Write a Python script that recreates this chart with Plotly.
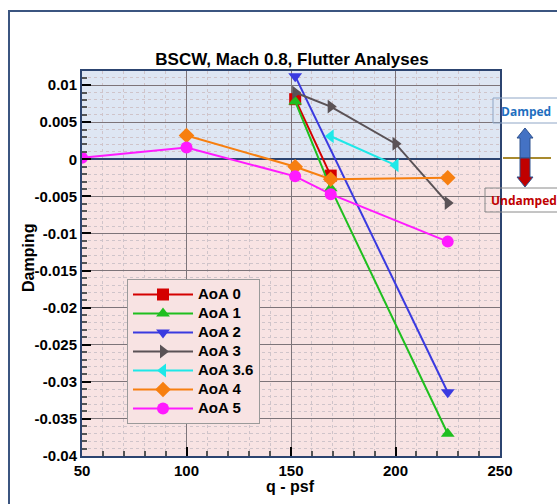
import plotly.graph_objects as go

# ---- data ----
series_names = ["AoA 0", "AoA 1", "AoA 2", "AoA 3", "AoA 3.6", "AoA 4", "AoA 5"]
q_aoa0 = [152, 169]
d_aoa0 = [0.0081, -0.0022]
q_aoa1 = [152, 169, 225]
d_aoa1 = [0.0078, -0.0039, -0.0370]
q_aoa2 = [152, 225]
d_aoa2 = [0.0112, -0.0314]
q_aoa3 = [152, 169, 200, 225]
d_aoa3 = [0.0090, 0.0071, 0.0021, -0.0059]
q_aoa36 = [169, 200]
d_aoa36 = [0.0031, -0.0008]
q_aoa4 = [100, 152, 169, 225]
d_aoa4 = [0.0032, -0.0010, -0.0027, -0.0025]
q_aoa5 = [50, 100, 152, 169, 225]
d_aoa5 = [0.0002, 0.0016, -0.0023, -0.0047, -0.0111]

y_tickvals = [0.01, 0.005, 0, -0.005, -0.01, -0.015, -0.02, -0.025, -0.03, -0.035, -0.04]
y_ticktext = ["0.01", "0.005", "0", "-0.005", "-0.01", "-0.015", "-0.02", "-0.025", "-0.03", "-0.035", "-0.04"]
x_tickvals = [50, 100, 150, 200, 250]
x_ticktext = ["50", "100", "150", "200", "250"]

xs = [q_aoa0, q_aoa1, q_aoa2, q_aoa3, q_aoa36, q_aoa4, q_aoa5]
ys = [d_aoa0, d_aoa1, d_aoa2, d_aoa3, d_aoa36, d_aoa4, d_aoa5]
colors = ["#d40000", "#1fbf1f", "#3a3ae0", "#5a5256", "#1ee8e8", "#f77f10", "#ff1aff"]
symbols = ["square", "triangle-up", "triangle-down", "triangle-right", "triangle-left", "diamond", "circle"]

W, H = 557, 504
ML, MR, MT, MB = 82, 57, 71, 48
PW, PH = W - ML - MR, H - MT - MB


def px(xp):
    return (xp - ML) / PW


def py(yp):
    return (H - MB - yp) / PH


fig = go.Figure()
for n, x, y, c, s in zip(series_names, xs, ys, colors, symbols):
    fig.add_trace(go.Scatter(x=x, y=y, name=f"<span style='font-size:15px'>{n}</span>",
                             mode="lines+markers",
                             line=dict(color=c, width=2),
                             marker=dict(color=c, symbol=s, size=12)))

shapes = []
# background regions
shapes.append(dict(type="rect", xref="x", yref="y", x0=50, x1=250, y0=0, y1=0.0119,
                   fillcolor="rgb(222,230,243)", line=dict(width=0), layer="below"))
shapes.append(dict(type="rect", xref="x", yref="y", x0=50, x1=250, y0=-0.04, y1=0,
                   fillcolor="rgb(248,227,227)", line=dict(width=0), layer="below"))
# outer frame
shapes.append(dict(type="path", xref="paper", yref="paper",
                   path=f"M {px(9)},{py(520)} L {px(9)},{py(11)} L {px(580)},{py(11)}",
                   line=dict(color="#3b5580", width=2)))
# Damped / Undamped boxes
shapes.append(dict(type="rect", xref="paper", yref="paper",
                   x0=px(493), x1=px(600), y0=py(123), y1=py(98),
                   line=dict(color="#8fa6c6", width=1)))
shapes.append(dict(type="rect", xref="paper", yref="paper",
                   x0=px(485), x1=px(600), y0=py(212), y1=py(188),
                   line=dict(color="#8a8a8a", width=1)))
# horizontal line of the indicator
shapes.append(dict(type="line", xref="paper", yref="paper",
                   x0=px(503), x1=px(551), y0=py(158), y1=py(158),
                   line=dict(color="#a88a2e", width=2)))
# double arrow: upper half blue, lower half red
cx = 525
sw, hw, hh = 5, 8, 10
up = (f"M {px(cx-sw)},{py(158)} L {px(cx-sw)},{py(128+hh)} L {px(cx-hw)},{py(128+hh)} "
      f"L {px(cx)},{py(128)} L {px(cx+hw)},{py(128+hh)} L {px(cx+sw)},{py(128+hh)} "
      f"L {px(cx+sw)},{py(158)} Z")
dn = (f"M {px(cx-sw)},{py(158)} L {px(cx-sw)},{py(187-hh)} L {px(cx-hw)},{py(187-hh)} "
      f"L {px(cx)},{py(187)} L {px(cx+hw)},{py(187-hh)} L {px(cx+sw)},{py(187-hh)} "
      f"L {px(cx+sw)},{py(158)} Z")
shapes.append(dict(type="path", xref="paper", yref="paper", path=up,
                   fillcolor="#4472c4", line=dict(color="#2f528f", width=1)))
shapes.append(dict(type="path", xref="paper", yref="paper", path=dn,
                   fillcolor="#c00000", line=dict(color="#2f528f", width=1)))

bold = dict(family="Liberation Sans, Arial, sans-serif", color="black", weight="bold")

annotations = [
    dict(text="Damping", xref="paper", yref="paper", x=px(28), y=py(258), showarrow=False,
         textangle=-90, font=dict(size=16, **bold), xanchor="center", yanchor="middle"),
    dict(text="q - psf", xref="paper", yref="paper", x=px(290), y=py(487), showarrow=False,
         font=dict(size=16, **bold), xanchor="center", yanchor="middle"),
    dict(text="Damped", xref="paper", yref="paper", x=px(526), y=py(111), showarrow=False,
         font=dict(size=12, family="Open Sans, sans-serif", color="#1f6fc0", weight="bold"),
         xanchor="center", yanchor="middle"),
    dict(text="Undamped", xref="paper", yref="paper", x=px(524), y=py(200), showarrow=False,
         font=dict(size=12, family="Open Sans, sans-serif", color="#c00000", weight="bold"),
         xanchor="center", yanchor="middle"),
]

axis_common = dict(
    showline=True, mirror=True, linecolor="#2c4470", linewidth=2,
    showgrid=True, gridcolor="#7d7479", gridwidth=1,
    ticks="inside", ticklen=9, tickwidth=2, tickcolor="black",
    tickfont=dict(size=15, **bold),
)

fig.update_layout(
    width=W, height=H,
    margin=dict(l=ML, r=MR, t=MT, b=MB),
    paper_bgcolor="white", plot_bgcolor="white",
    title=dict(text="BSCW, Mach 0.8, Flutter Analyses", x=px(292), xref="paper", xanchor="center",
               y=1 - 59 / H, yref="container", yanchor="middle", font=dict(size=17, **bold)),
    xaxis=dict(range=[50, 250], tickvals=x_tickvals, ticktext=x_ticktext, zeroline=False,
               minor=dict(dtick=10, showgrid=True, gridcolor="#cfc4ca", griddash="dot",
                          ticks="inside", ticklen=5, tickcolor="#555"),
               **axis_common),
    yaxis=dict(range=[-0.04, 0.0119], tickvals=y_tickvals, ticktext=y_ticktext,
               zeroline=True, zerolinecolor="#2c4470", zerolinewidth=2,
               minor=dict(dtick=0.001, tick0=0, showgrid=True, gridcolor="#cfc4ca", griddash="dot",
                          ticks="inside", ticklen=5, tickcolor="#555"),
               **axis_common),
    legend=dict(x=px(127), y=py(279), xanchor="left", yanchor="top",
                bgcolor="rgb(248,227,227)", bordercolor="#9a9a9a", borderwidth=1,
                font=dict(size=12, **bold), tracegroupgap=0, itemwidth=60),
    shapes=shapes, annotations=annotations,
    showlegend=True,
)

fig.write_html("out.html", config={"displayModeBar": False},
               post_script="document.body.style.margin='0px';document.body.style.overflow='hidden';")
